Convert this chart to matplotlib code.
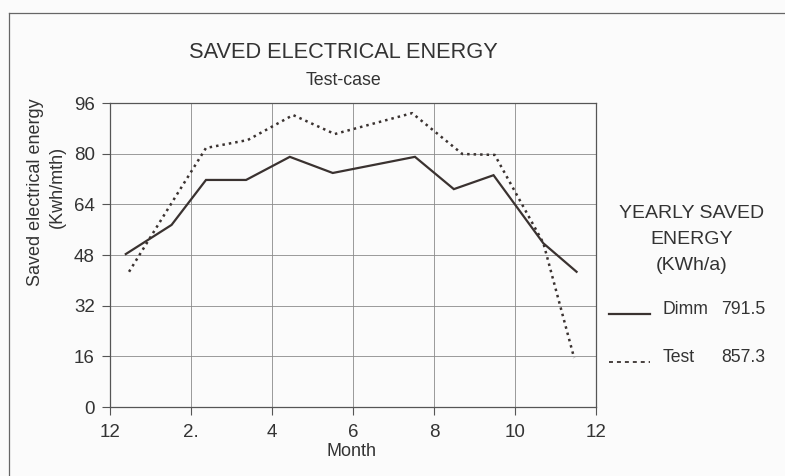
import matplotlib
matplotlib.use("Agg")
import matplotlib.pyplot as plt
from matplotlib.lines import Line2D

plt.rcParams['font.family'] = ['Liberation Sans', 'DejaVu Sans']

# Data
dimm_month = [0.39, 1.52, 2.37, 3.36, 4.44, 5.5, 7.53, 8.49, 9.47, 10.7, 11.52]
dimm_value = [48.3, 57.5, 71.7, 71.7, 79.0, 73.9, 79.0, 68.8, 73.2, 51.7, 42.7]
test_month = [0.47, 1.52, 2.37, 3.4, 4.52, 5.55, 7.46, 8.7, 9.5, 10.7, 11.46]
test_value = [42.7, 64.4, 81.8, 84.3, 92.2, 86.2, 92.8, 79.9, 79.6, 51.8, 15.5]
x_ticks = [0, 2, 4, 6, 8, 10, 12]
x_tick_labels = ["12", "2.", "4", "6", "8", "10", "12"]
y_ticks = [0, 16, 32, 48, 64, 80, 96]
legend_names = ["Dimm", "Test"]
legend_totals = ["791.5", "857.3"]

W, H = 785, 476
fig = plt.figure(figsize=(W / 100, H / 100), dpi=100, facecolor='#fbfbfb')
ax = fig.add_axes([110 / W, 1 - 407 / H, (596 - 110) / W, (407 - 103) / H])
ax.set_facecolor('#fbfbfb')

ink = '#3a3230'
ax.plot(dimm_month, dimm_value, color=ink, lw=1.6, solid_joinstyle='miter')
ax.plot(test_month, test_value, color=ink, lw=1.8, linestyle=(0, (1, 1.6)))

ax.set_xlim(0, 12)
ax.set_ylim(0, 96)
ax.set_xticks(x_ticks)
ax.set_xticklabels(x_tick_labels)
ax.set_yticks(y_ticks)
ax.grid(True, color='#8a8a8a', lw=0.6)
for s in ax.spines.values():
    s.set_color('#555555')
    s.set_linewidth(0.9)
ax.tick_params(axis='both', direction='out', length=6, width=0.8, color='#555555',
               labelsize=13.5, labelcolor='#333333')
ax.tick_params(axis='x', pad=6)
ax.tick_params(axis='y', pad=5)

fig.text(351 / W, 1 - 451 / H, "Month", ha='center', va='center', fontsize=13, color='#333333')
fig.text(36 / W, 1 - 192 / H, "Saved electrical energy", rotation=90,
         ha='center', va='center', fontsize=13, color='#333333')
fig.text(57 / W, 1 - 187 / H, "(Kwh/mth)", rotation=90,
         ha='center', va='center', fontsize=13, color='#333333')

fig.text(343 / W, 1 - 52 / H, "SAVED ELECTRICAL ENERGY", ha='center', va='center',
         fontsize=15.7, color='#333333')
fig.text(344 / W, 1 - 80 / H, "Test-case", ha='center', va='center',
         fontsize=12.8, color='#333333')

# Right-hand legend
fig.text(692 / W, 1 - 213 / H, "YEARLY SAVED", ha='center', va='center', fontsize=14, color='#333333')
fig.text(692 / W, 1 - 240 / H, "ENERGY", ha='center', va='center', fontsize=14, color='#333333')
fig.text(692 / W, 1 - 265 / H, "(KWh/a)", ha='center', va='center', fontsize=14, color='#333333')

legend_y = [310, 358]
legend_styles = ['-', (0, (2.2, 2.2))]
legend_lw = [1.6, 1.3]
for name, total, yy, ls, lw in zip(legend_names, legend_totals, legend_y, legend_styles, legend_lw):
    ly = 1 - (yy + 4) / H
    fig.add_artist(Line2D([609 / W, 650 / W], [ly, ly], color=ink, lw=lw, linestyle=ls))
    fig.text(663 / W, 1 - yy / H, name, ha='left', va='center', fontsize=12.7, color='#333333')
    fig.text(721 / W, 1 - yy / H, total, ha='left', va='center', fontsize=12.7, color='#333333')

# Outer frame lines (top and left)
fig.add_artist(Line2D([9 / W, 1.0], [1 - 13 / H, 1 - 13 / H], color='#666666', lw=0.9))
fig.add_artist(Line2D([9 / W, 9 / W], [0.0, 1 - 13 / H], color='#666666', lw=0.9))

fig.savefig("out.png", dpi=100, facecolor=fig.get_facecolor())
